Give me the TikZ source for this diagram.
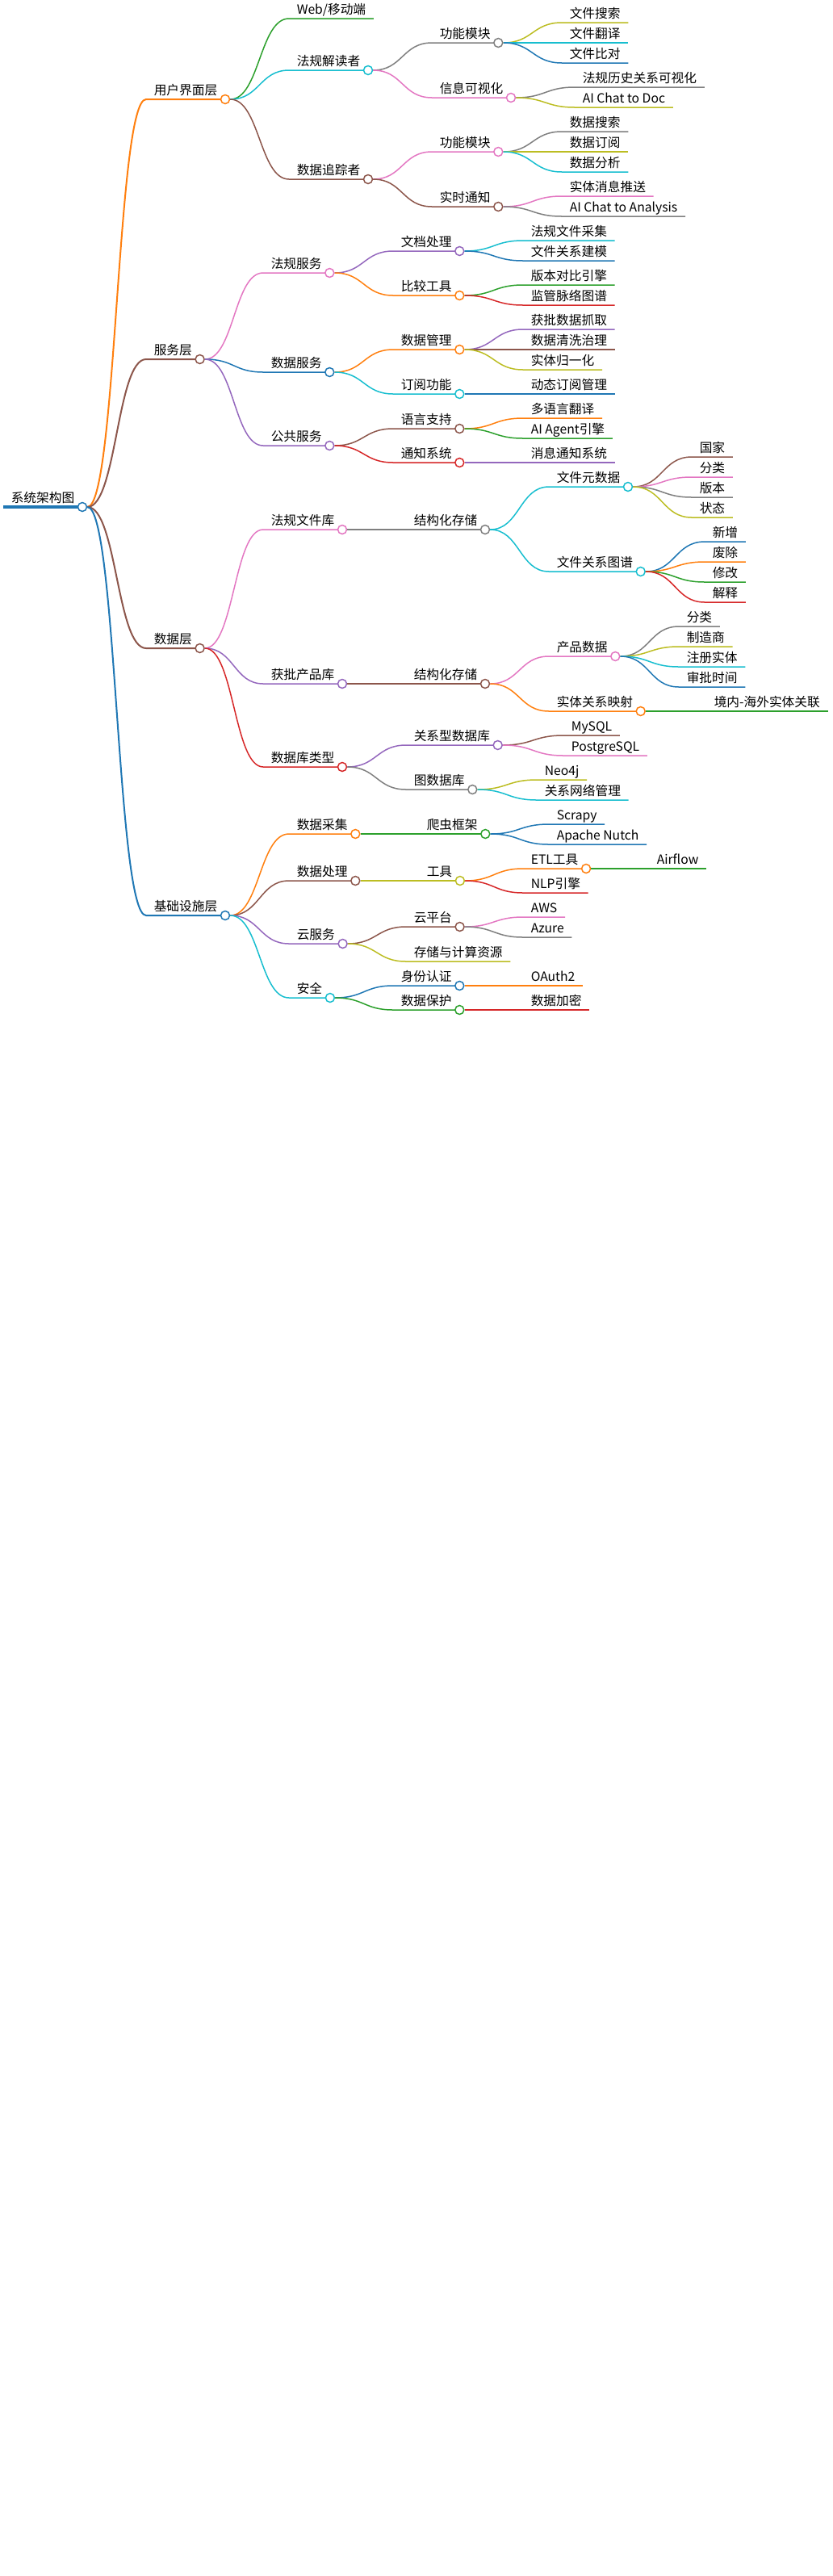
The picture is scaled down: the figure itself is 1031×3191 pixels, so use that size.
\documentclass[tikz,border=0pt]{standalone}
\usepackage{fontspec}
\newfontfamily\cjk{Noto Sans CJK SC}
\usetikzlibrary{calc}
\definecolor{blu}{HTML}{1F77B4}
\definecolor{org}{HTML}{FF7F0E}
\definecolor{grn}{HTML}{2CA02C}
\definecolor{rd}{HTML}{D62728}
\definecolor{prp}{HTML}{9467BD}
\definecolor{brn}{HTML}{8C564B}
\definecolor{pnk}{HTML}{E377C2}
\definecolor{gry}{HTML}{7F7F7F}
\definecolor{olv}{HTML}{BCBD22}
\definecolor{cyn}{HTML}{17BECF}
\begin{document}
\begin{tikzpicture}[x=1pt, y=-1pt, line width=1.5pt,
    mm/.style={anchor=south west, inner xsep=9pt, inner ysep=2.5pt, text height=11pt, text depth=2.5pt,
               font=\cjk\fontsize{15.7pt}{18pt}\selectfont},
    knob/.style={circle, draw, fill=white, inner sep=0pt, minimum size=11pt, line width=1.5pt},
    mmlink/.style={to path={let \p1=(\tikztostart), \p2=(\tikztotarget) in
        .. controls ({(\x1+\x2)/2},\y1) and ({(\x1+\x2)/2},\y2) .. (\tikztotarget)}}]
      \useasboundingbox (0,0) rectangle (1031,3191);

      \node at (4,628) [mm] (root) {系统架构图};
      \draw[blu, line width=3.5pt] (root.south west) -- (root.south east) node[knob] (root-o) {};

      \node at (181,123) [mm] (ui) {用户界面层};
      \draw[org, line width=2pt] (root-o.east) to[mmlink] (ui.south west) -- (ui.south east) node[knob] (ui-o) {};
      \node at (358,23)  [mm] (web)    {Web/移动端};
      \draw[grn] (ui-o.east) to[mmlink] (web.south west) -- (web.south east);
      \node at (358,87)  [mm] (reader) {法规解读者};
      \draw[cyn] (ui-o.east) to[mmlink] (reader.south west) -- (reader.south east) node[knob] (reader-o) {};
      \node at (535,53)  [mm] (func1)  {功能模块};
      \draw[gry] (reader-o.east) to[mmlink] (func1.south west) -- (func1.south east) node[knob] (func1-o) {};
      \node at (696,28)  [mm] (search1)    {文件搜索};
      \node at (696,53)  [mm] (translate1) {文件翻译};
      \node at (696,78)  [mm] (compare1)   {文件比对};
      \draw[olv] (func1-o.east) to[mmlink] (search1.south west)    -- (search1.south east);
      \draw[cyn] (func1-o.east) to[mmlink] (translate1.south west) -- (translate1.south east);
      \draw[blu] (func1-o.east) to[mmlink] (compare1.south west)   -- (compare1.south east);
      \node at (535,121) [mm] (visual) {信息可视化};
      \draw[pnk] (reader-o.east) to[mmlink] (visual.south west) -- (visual.south east) node[knob] (visual-o) {};
      \node at (712,108) [mm] (history1) {法规历史关系可视化};
      \node at (712,133) [mm] (chatdoc)  {AI Chat to Doc};
      \draw[gry] (visual-o.east) to[mmlink] (history1.south west) -- (history1.south east);
      \draw[olv] (visual-o.east) to[mmlink] (chatdoc.south west)  -- (chatdoc.south east);
      \node at (358,222) [mm] (tracker) {数据追踪者};
      \draw[brn] (ui-o.east) to[mmlink] (tracker.south west) -- (tracker.south east) node[knob] (tracker-o) {};
      \node at (535,188) [mm] (func2)  {功能模块};
      \draw[pnk] (tracker-o.east) to[mmlink] (func2.south west) -- (func2.south east) node[knob] (func2-o) {};
      \node at (696,163) [mm] (search2)    {数据搜索};
      \node at (696,188) [mm] (subscribe2) {数据订阅};
      \node at (696,213) [mm] (analysis2)  {数据分析};
      \draw[gry] (func2-o.east) to[mmlink] (search2.south west)    -- (search2.south east);
      \draw[olv] (func2-o.east) to[mmlink] (subscribe2.south west) -- (subscribe2.south east);
      \draw[cyn] (func2-o.east) to[mmlink] (analysis2.south west)  -- (analysis2.south east);
      \node at (535,256) [mm] (notify) {实时通知};
      \draw[brn] (tracker-o.east) to[mmlink] (notify.south west) -- (notify.south east) node[knob] (notify-o) {};
      \node at (696,243) [mm] (push2)   {实体消息推送};
      \node at (696,268) [mm] (chatana) {AI Chat to Analysis};
      \draw[pnk] (notify-o.east) to[mmlink] (push2.south west)   -- (push2.south east);
      \draw[gry] (notify-o.east) to[mmlink] (chatana.south west) -- (chatana.south east);

      \node at (181,445) [mm] (svc) {服务层};
      \draw[brn, line width=2pt] (root-o.east) to[mmlink] (svc.south west) -- (svc.south east) node[knob] (svc-o) {};
      \node at (326,338) [mm] (lawsvc) {法规服务};
      \draw[pnk] (svc-o.east) to[mmlink] (lawsvc.south west) -- (lawsvc.south east) node[knob] (lawsvc-o) {};
      \node at (487,311) [mm] (docproc) {文档处理};
      \draw[prp] (lawsvc-o.east) to[mmlink] (docproc.south west) -- (docproc.south east) node[knob] (docproc-o) {};
      \node at (648,298) [mm] (collect3) {法规文件采集};
      \node at (648,323) [mm] (model3)   {文件关系建模};
      \draw[cyn] (docproc-o.east) to[mmlink] (collect3.south west) -- (collect3.south east);
      \draw[blu] (docproc-o.east) to[mmlink] (model3.south west)   -- (model3.south east);
      \node at (487,366) [mm] (comptool) {比较工具};
      \draw[org] (lawsvc-o.east) to[mmlink] (comptool.south west) -- (comptool.south east) node[knob] (comptool-o) {};
      \node at (648,353) [mm] (engine3) {版本对比引擎};
      \node at (648,378) [mm] (pulse3)  {监管脉络图谱};
      \draw[grn] (comptool-o.east) to[mmlink] (engine3.south west) -- (engine3.south east);
      \draw[rd]  (comptool-o.east) to[mmlink] (pulse3.south west)  -- (pulse3.south east);
      \node at (326,461) [mm] (datasvc) {数据服务};
      \draw[blu] (svc-o.east) to[mmlink] (datasvc.south west) -- (datasvc.south east) node[knob] (datasvc-o) {};
      \node at (487,433) [mm] (datamgmt) {数据管理};
      \draw[org] (datasvc-o.east) to[mmlink] (datamgmt.south west) -- (datamgmt.south east) node[knob] (datamgmt-o) {};
      \node at (648,408) [mm] (fetch3) {获批数据抓取};
      \node at (648,433) [mm] (clean3) {数据清洗治理};
      \node at (648,458) [mm] (unify3) {实体归一化};
      \draw[prp] (datamgmt-o.east) to[mmlink] (fetch3.south west) -- (fetch3.south east);
      \draw[brn] (datamgmt-o.east) to[mmlink] (clean3.south west) -- (clean3.south east);
      \draw[olv] (datamgmt-o.east) to[mmlink] (unify3.south west) -- (unify3.south east);
      \node at (487,488) [mm] (subfunc) {订阅功能};
      \draw[cyn] (datasvc-o.east) to[mmlink] (subfunc.south west) -- (subfunc.south east) node[knob] (subfunc-o) {};
      \node at (648,488) [mm] (dynsub3) {动态订阅管理};
      \draw[blu] (subfunc-o.east) to[mmlink] (dynsub3.south west) -- (dynsub3.south east);
      \node at (326,552) [mm] (pubsvc) {公共服务};
      \draw[prp] (svc-o.east) to[mmlink] (pubsvc.south west) -- (pubsvc.south east) node[knob] (pubsvc-o) {};
      \node at (487,531) [mm] (lang) {语言支持};
      \draw[brn] (pubsvc-o.east) to[mmlink] (lang.south west) -- (lang.south east) node[knob] (lang-o) {};
      \node at (648,518) [mm] (multi3) {多语言翻译};
      \node at (648,543) [mm] (agent3) {AI Agent引擎};
      \draw[org] (lang-o.east) to[mmlink] (multi3.south west) -- (multi3.south east);
      \draw[grn] (lang-o.east) to[mmlink] (agent3.south west) -- (agent3.south east);
      \node at (487,573) [mm] (notisys) {通知系统};
      \draw[rd] (pubsvc-o.east) to[mmlink] (notisys.south west) -- (notisys.south east) node[knob] (notisys-o) {};
      \node at (648,573) [mm] (msg3) {消息通知系统};
      \draw[prp] (notisys-o.east) to[mmlink] (msg3.south west) -- (msg3.south east);

      \node at (181,803) [mm] (data) {数据层};
      \draw[brn, line width=2pt] (root-o.east) to[mmlink] (data.south west) -- (data.south east) node[knob] (data-o) {};
      \node at (326,656) [mm] (lawlib) {法规文件库};
      \draw[pnk] (data-o.east) to[mmlink] (lawlib.south west) -- (lawlib.south east) node[knob] (lawlib-o) {};
      \node at (503,656) [mm] (store1) {结构化存储};
      \draw[gry] (lawlib-o.east) to[mmlink] (store1.south west) -- (store1.south east) node[knob] (store1-o) {};
      \node at (680,603) [mm] (filemeta) {文件元数据};
      \draw[cyn] (store1-o.east) to[mmlink] (filemeta.south west) -- (filemeta.south east) node[knob] (filemeta-o) {};
      \node at (857,566) [mm] (country)   {国家};
      \node at (857,591) [mm] (category1) {分类};
      \node at (857,616) [mm] (version1)  {版本};
      \node at (857,641) [mm] (status1)   {状态};
      \draw[brn] (filemeta-o.east) to[mmlink] (country.south west)   -- (country.south east);
      \draw[pnk] (filemeta-o.east) to[mmlink] (category1.south west) -- (category1.south east);
      \draw[gry] (filemeta-o.east) to[mmlink] (version1.south west)  -- (version1.south east);
      \draw[olv] (filemeta-o.east) to[mmlink] (status1.south west)   -- (status1.south east);
      \node at (680,708) [mm] (filegraph) {文件关系图谱};
      \draw[cyn] (store1-o.east) to[mmlink] (filegraph.south west) -- (filegraph.south east) node[knob] (filegraph-o) {};
      \node at (873,671) [mm] (add1)     {新增};
      \node at (873,696) [mm] (repeal1)  {废除};
      \node at (873,721) [mm] (amend1)   {修改};
      \node at (873,746) [mm] (explain1) {解释};
      \draw[blu] (filegraph-o.east) to[mmlink] (add1.south west)     -- (add1.south east);
      \draw[org] (filegraph-o.east) to[mmlink] (repeal1.south west)  -- (repeal1.south east);
      \draw[grn] (filegraph-o.east) to[mmlink] (amend1.south west)   -- (amend1.south east);
      \draw[rd]  (filegraph-o.east) to[mmlink] (explain1.south west) -- (explain1.south east);
      \node at (326,847) [mm] (prodlib) {获批产品库};
      \draw[prp] (data-o.east) to[mmlink] (prodlib.south west) -- (prodlib.south east) node[knob] (prodlib-o) {};
      \node at (503,847) [mm] (store2) {结构化存储};
      \draw[brn] (prodlib-o.east) to[mmlink] (store2.south west) -- (store2.south east) node[knob] (store2-o) {};
      \node at (680,813) [mm] (proddata) {产品数据};
      \draw[pnk] (store2-o.east) to[mmlink] (proddata.south west) -- (proddata.south east) node[knob] (proddata-o) {};
      \node at (841,776) [mm] (category2) {分类};
      \node at (841,801) [mm] (maker2)    {制造商};
      \node at (841,826) [mm] (entity2)   {注册实体};
      \node at (841,851) [mm] (approve2)  {审批时间};
      \draw[gry] (proddata-o.east) to[mmlink] (category2.south west) -- (category2.south east);
      \draw[olv] (proddata-o.east) to[mmlink] (maker2.south west)    -- (maker2.south east);
      \draw[cyn] (proddata-o.east) to[mmlink] (entity2.south west)   -- (entity2.south east);
      \draw[blu] (proddata-o.east) to[mmlink] (approve2.south west)  -- (approve2.south east);
      \node at (680,881) [mm] (entmap) {实体关系映射};
      \draw[org] (store2-o.east) to[mmlink] (entmap.south west) -- (entmap.south east) node[knob] (entmap-o) {};
      \node at (875,881) [mm] (crossmap) {境内-海外实体关联};
      \draw[grn] (entmap-o.east) to[mmlink] (crossmap.south west) -- (crossmap.south east);
      \node at (326,950) [mm] (dbtype) {数据库类型};
      \draw[rd] (data-o.east) to[mmlink] (dbtype.south west) -- (dbtype.south east) node[knob] (dbtype-o) {};
      \node at (503,923) [mm] (rdb) {关系型数据库};
      \draw[prp] (dbtype-o.east) to[mmlink] (rdb.south west) -- (rdb.south east) node[knob] (rdb-o) {};
      \node at (698,911) [mm] (mysql) {MySQL};
      \node at (698,936) [mm] (pgsql) {PostgreSQL};
      \draw[brn] (rdb-o.east) to[mmlink] (mysql.south west) -- (mysql.south east);
      \draw[pnk] (rdb-o.east) to[mmlink] (pgsql.south west) -- (pgsql.south east);
      \node at (503,978) [mm] (gdb) {图数据库};
      \draw[gry] (dbtype-o.east) to[mmlink] (gdb.south west) -- (gdb.south east) node[knob] (gdb-o) {};
      \node at (665,966) [mm] (neo)     {Neo4j};
      \node at (665,991) [mm] (netmgmt) {关系网络管理};
      \draw[olv] (gdb-o.east) to[mmlink] (neo.south west)     -- (neo.south east);
      \draw[cyn] (gdb-o.east) to[mmlink] (netmgmt.south west) -- (netmgmt.south east);

      \node at (181,1134) [mm] (infra) {基础设施层};
      \draw[blu, line width=2pt] (root-o.east) to[mmlink] (infra.south west) -- (infra.south east) node[knob] (infra-o) {};
      \node at (358,1033) [mm] (collect) {数据采集};
      \draw[org] (infra-o.east) to[mmlink] (collect.south west) -- (collect.south east) node[knob] (collect-o) {};
      \node at (519,1033) [mm] (crawler) {爬虫框架};
      \draw[grn] (collect-o.east) to[mmlink] (crawler.south west) -- (crawler.south east) node[knob] (crawler-o) {};
      \node at (680,1021) [mm] (scrapy) {Scrapy};
      \node at (680,1046) [mm] (nutch)  {Apache Nutch};
      \draw[blu] (crawler-o.east) to[mmlink] (scrapy.south west) -- (scrapy.south east);
      \draw[blu] (crawler-o.east) to[mmlink] (nutch.south west)  -- (nutch.south east);
      \node at (358,1091) [mm] (process) {数据处理};
      \draw[brn] (infra-o.east) to[mmlink] (process.south west) -- (process.south east) node[knob] (process-o) {};
      \node at (519,1091) [mm] (tools) {工具};
      \draw[olv] (process-o.east) to[mmlink] (tools.south west) -- (tools.south east) node[knob] (tools-o) {};
      \node at (648,1076) [mm] (etl) {ETL工具};
      \draw[org] (tools-o.east) to[mmlink] (etl.south west) -- (etl.south east) node[knob] (etl-o) {};
      \node at (804,1076) [mm] (airflow) {Airflow};
      \draw[grn] (etl-o.east) to[mmlink] (airflow.south west) -- (airflow.south east);
      \node at (648,1106) [mm] (nlp) {NLP引擎};
      \draw[rd] (tools-o.east) to[mmlink] (nlp.south west) -- (nlp.south east);
      \node at (358,1169) [mm] (cloud) {云服务};
      \draw[prp] (infra-o.east) to[mmlink] (cloud.south west) -- (cloud.south east) node[knob] (cloud-o) {};
      \node at (503,1148) [mm] (platform) {云平台};
      \draw[brn] (cloud-o.east) to[mmlink] (platform.south west) -- (platform.south east) node[knob] (platform-o) {};
      \node at (648,1136) [mm] (aws)   {AWS};
      \node at (648,1161) [mm] (azure) {Azure};
      \draw[pnk] (platform-o.east) to[mmlink] (aws.south west)   -- (aws.south east);
      \draw[gry] (platform-o.east) to[mmlink] (azure.south west) -- (azure.south east);
      \node at (503,1191) [mm] (storage) {存储与计算资源};
      \draw[olv] (cloud-o.east) to[mmlink] (storage.south west) -- (storage.south east);
      \node at (358,1236) [mm] (security) {安全};
      \draw[cyn] (infra-o.east) to[mmlink] (security.south west) -- (security.south east) node[knob] (security-o) {};
      \node at (487,1221) [mm] (auth) {身份认证};
      \draw[blu] (security-o.east) to[mmlink] (auth.south west) -- (auth.south east) node[knob] (auth-o) {};
      \node at (648,1221) [mm] (oauth) {OAuth2};
      \draw[org] (auth-o.east) to[mmlink] (oauth.south west) -- (oauth.south east);
      \node at (487,1251) [mm] (protect) {数据保护};
      \draw[grn] (security-o.east) to[mmlink] (protect.south west) -- (protect.south east) node[knob] (protect-o) {};
      \node at (648,1251) [mm] (encrypt) {数据加密};
      \draw[rd] (protect-o.east) to[mmlink] (encrypt.south west) -- (encrypt.south east);
    \end{tikzpicture}
\end{document}
